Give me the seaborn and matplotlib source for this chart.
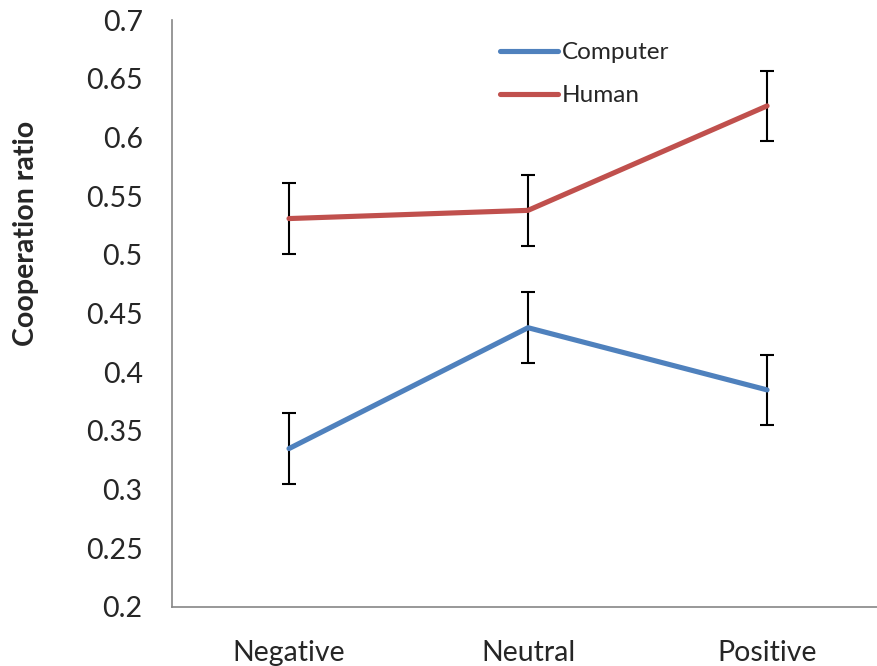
import matplotlib
matplotlib.use("Agg")
import matplotlib.pyplot as plt
import seaborn as sns
import pandas as pd
import numpy as np

categories = ["Negative", "Neutral", "Positive"]
computer = [0.335, 0.438, 0.385]
human = [0.531, 0.538, 0.627]
computer_err = [0.03, 0.03, 0.03]
human_err = [0.03, 0.03, 0.03]
yticks = [0.2, 0.25, 0.3, 0.35, 0.4, 0.45, 0.5, 0.55, 0.6, 0.65, 0.7]
ytick_labels = ["0.2", "0.25", "0.3", "0.35", "0.4", "0.45", "0.5", "0.55", "0.6", "0.65", "0.7"]

sns.set_style("white")
plt.rcParams['font.family'] = ['Lato', 'DejaVu Sans']

df = pd.DataFrame({
    "Emotion": categories * 2,
    "ratio": computer + human,
    "Partner": ["Computer"] * 3 + ["Human"] * 3,
})

fig = plt.figure(figsize=(8.77, 6.66), dpi=100)
ax = fig.add_axes([0.196, 0.0886, 0.804, 0.881])

palette = {"Computer": "#4F81BD", "Human": "#C0504D"}
sns.lineplot(data=df, x="Emotion", y="ratio", hue="Partner", palette=palette,
             linewidth=3.7, ax=ax, sort=False)

x = np.arange(len(categories))
ax.errorbar(x, computer, yerr=computer_err, fmt="none", ecolor="black",
            elinewidth=1.5, capsize=5, capthick=1.5, zorder=1)
ax.errorbar(x, human, yerr=human_err, fmt="none", ecolor="black",
            elinewidth=1.5, capsize=5, capthick=1.5, zorder=1)

ax.set_xlim(-0.49, 2.46)
ax.set_ylim(0.2, 0.7)
ax.set_yticks(yticks)
ax.set_yticklabels(ytick_labels, fontsize=20.5)
ax.set_xticks(x)
ax.set_xticklabels(categories, fontsize=20.5)
ax.tick_params(axis="y", length=0, pad=21)
ax.tick_params(axis="x", length=0, pad=24)
ax.set_xlabel("")
ax.set_ylabel("Cooperation ratio", fontsize=20.5, fontweight="bold")
ax.yaxis.set_label_coords(-0.188, 0.637)

for s in ["top", "right"]:
    ax.spines[s].set_visible(False)
for s in ["left", "bottom"]:
    ax.spines[s].set_color("#868686")
    ax.spines[s].set_linewidth(1.2)

leg = ax.legend(loc="upper left", bbox_to_anchor=(0.434, 1.0), frameon=False,
                fontsize=17.5, handlelength=2.4, handletextpad=0.15, labelspacing=0.9,
                title=None)

fig.savefig("out.png", dpi=100)
